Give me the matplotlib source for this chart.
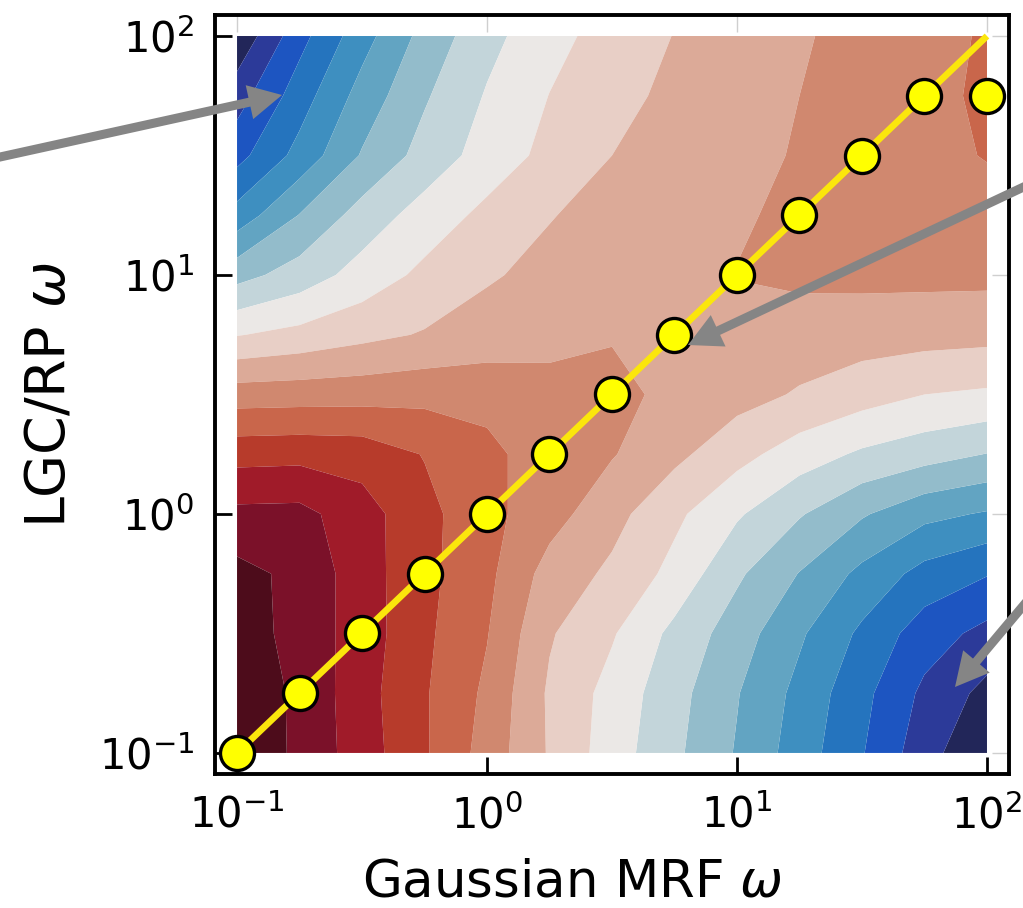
import numpy as np
import matplotlib
matplotlib.use("Agg")
import matplotlib.pyplot as plt
from matplotlib.ticker import NullLocator

# grid of omega values (quarter decades)
omega = [0.1, 0.1778, 0.3162, 0.5623, 1.0, 1.778, 3.162, 5.623, 10.0, 17.78, 31.62, 56.23, 100.0]

# best LGC/RP omega for each Gaussian MRF omega (yellow markers)
best_lgc = [0.1, 0.1778, 0.3162, 0.5623, 1.0, 1.778, 3.162, 5.623, 10.0, 17.78, 31.62, 56.23, 56.23]

# contour field, one row per LGC/RP omega (bottom to top)
score = [
    [16.9, 15.77, 14.49, 13.12, 11.6, 9.9, 8.49, 7.21, 5.91, 4.51, 3.07, 1.41, 0.05],
    [16.7, 15.8, 14.39, 13.1, 11.8, 9.85, 8.64, 7.36, 6.06, 4.71, 3.29, 1.78, 0.7],
    [16.5, 15.65, 14.52, 13.2, 12.05, 10.1, 9.1, 7.73, 6.49, 5.15, 3.8, 2.48, 1.7],
    [16.3, 15.75, 14.45, 13.28, 12.25, 10.6, 9.8, 8.7, 7.17, 5.96, 4.74, 3.65, 3.06],
    [15.26, 15.3, 14.42, 13.3, 12.3, 11.4, 10.34, 9.22, 8.13, 7.09, 6.11, 5.28, 4.9],
    [13.64, 13.7, 13.6, 12.95, 12.2, 11.6, 11.07, 10.25, 9.34, 8.5, 7.84, 7.41, 6.97],
    [11.5, 11.55, 11.6, 11.7, 11.75, 11.45, 11.2, 10.82, 10.37, 9.9, 9.43, 9.0, 8.84],
    [8.95, 9.3, 9.72, 10.08, 10.35, 10.6, 10.95, 11.02, 10.7, 10.55, 10.45, 10.38, 10.3],
    [6.64, 7.44, 8.4, 9.24, 9.91, 10.23, 10.49, 10.75, 11.03, 11.2, 11.25, 11.25, 11.25],
    [4.4, 6.04, 7.41, 8.43, 9.26, 9.96, 10.28, 10.58, 10.88, 11.22, 11.35, 11.5, 11.62],
    [2.66, 4.34, 6.09, 7.37, 8.43, 9.28, 10.0, 10.36, 10.72, 11.08, 11.4, 11.73, 12.05],
    [1.55, 3.52, 5.39, 6.88, 8.09, 9.02, 9.7, 10.22, 10.61, 11.0, 11.38, 11.76, 12.15],
    [0.2, 2.65, 4.6, 6.34, 7.68, 8.67, 9.41, 10.03, 10.47, 10.9, 11.3, 11.69, 12.1],
]

tick_values = [0.1, 1, 10, 100]

# one colour per filled band, dark blue -> white -> dark red
band_colors = ['#222659', '#2c3a99', '#1d55c1', '#2574be', '#3e8fc0', '#62a4c2',
               '#93bccb', '#c3d5da', '#ebe8e6', '#e8cfc6', '#dcaa98', '#d0886f',
               '#c9664b', '#b73b2b', '#a01b29', '#7b1129', '#4d0c1b']


def arrow(ax, tip, tail):
    """
    Grey pointer arrow, given in figure pixels (tail may lie off the canvas).
    """
    ax.annotate("", xy=tip, xycoords="figure pixels",
                xytext=tail, textcoords="figure pixels",
                arrowprops=dict(facecolor="#858585", edgecolor="none",
                                width=6.5, headwidth=25, headlength=24, shrink=0),
                annotation_clip=False, zorder=10)


rect = [0.2102, 0.1476, 0.7761, 0.8359]
pad = 0.088

fig = plt.figure(figsize=(10.23, 9.08), dpi=100)

# the bands are interpolated in log space, on a plain axes under the log one
ax_bg = fig.add_axes(rect)
log_w = np.log10(omega)
ax_bg.contourf(log_w, log_w, np.array(score), levels=np.arange(18),
               colors=band_colors, antialiased=True)
ax_bg.set_xlim(-1 - pad, 2 + pad)
ax_bg.set_ylim(-1 - pad, 2 + pad)
ax_bg.axis("off")

ax = fig.add_axes(rect)
ax.patch.set_visible(False)
ax.set_xscale("log")
ax.set_yscale("log")

ax.plot(omega, omega, color="#fbe60c", lw=4.8, zorder=2, solid_capstyle="butt")
ax.plot(omega, best_lgc, "o", ms=24.5, mfc="#ffff00", mec="black", mew=2.4,
        zorder=3, clip_on=False)

ax.set_xlim(10 ** (-1 - pad), 10 ** (2 + pad))
ax.set_ylim(10 ** (-1 - pad), 10 ** (2 + pad))

ax.set_xticks(tick_values)
ax.set_yticks(tick_values)
ax.xaxis.set_minor_locator(NullLocator())
ax.yaxis.set_minor_locator(NullLocator())
ax.tick_params(which="major", direction="in", length=12, width=2,
               labelsize=30, pad=15, color="black")
for s in ax.spines.values():
    s.set_linewidth(2.8)

# faint mirrored ticks on top and right
secx = ax.secondary_xaxis("top")
secx.set_xticks(tick_values)
secx.xaxis.set_minor_locator(NullLocator())
secx.tick_params(direction="in", length=12, width=1, color="#cfcfcf", labeltop=False)
secx.spines["top"].set_visible(False)
secy = ax.secondary_yaxis("right")
secy.set_yticks(tick_values)
secy.yaxis.set_minor_locator(NullLocator())
secy.tick_params(direction="in", length=12, width=1, color="#cfcfcf", labelright=False)
secy.spines["right"].set_visible(False)

ax.set_xlabel("Gaussian MRF $\\omega$", fontsize=37)
ax.xaxis.set_label_coords(0.45, -0.162)
ax.xaxis.label.set_va("baseline")
ax.set_ylabel("LGC/RP $\\omega$", fontsize=40)
ax.yaxis.set_label_coords(-0.189, 0.5)
ax.yaxis.label.set_va("baseline")

arrow(ax, (282, 813), (-100, 729))
arrow(ax, (688, 563), (1100, 757))
arrow(ax, (955, 221), (1060, 346))

fig.savefig("out.png", dpi=100)
